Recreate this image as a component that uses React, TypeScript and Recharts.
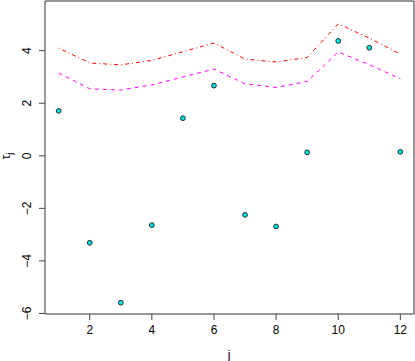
import React from 'react';
import { ComposedChart, Line, Scatter, XAxis, YAxis, ReferenceArea } from 'recharts';

const jValues = [1, 2, 3, 4, 5, 6, 7, 8, 9, 10, 11, 12];
const tauValues = [1.71, -3.31, -5.59, -2.64, 1.43, 2.67, -2.25, -2.69, 0.13, 4.37, 4.11, 0.15];
const upperValues = [4.1, 3.53, 3.46, 3.63, 3.96, 4.29, 3.68, 3.57, 3.74, 5.02, 4.48, 3.87];
const lowerValues = [3.15, 2.55, 2.5, 2.7, 3.0, 3.3, 2.74, 2.6, 2.83, 3.95, 3.47, 2.93];
const xTicks = [2, 4, 6, 8, 10, 12];
const yTicks = [-6, -4, -2, 0, 2, 4];

const data = jValues.map((j, i) => ({
    j,
    tau: tauValues[i],
    upper: upperValues[i],
    lower: lowerValues[i],
}));

const X_DOMAIN: [number, number] = [0.56, 12.44];
const Y_DOMAIN: [number, number] = [-6.02, 5.89];
const FONT = '"Liberation Sans", Arial, sans-serif';

const fmt = (v: number) => (v < 0 ? `\u2212${Math.abs(v)}` : `${v}`);

const YTick = ({ y, payload }: any) => (
    <text
        x={27}
        y={y}
        transform={`rotate(-90, 27, ${y})`}
        textAnchor="middle"
        dominantBaseline="central"
        fontSize={12}
        fontFamily={FONT}
        fill="#000"
    >
        {fmt(payload.value)}
    </text>
);

const XTick = ({ x, payload }: any) => (
    <text x={x} y={334} textAnchor="middle" fontSize={12} fontFamily={FONT} fill="#000">
        {payload.value}
    </text>
);

const Dot = ({ cx, cy }: any) => <circle cx={cx} cy={cy} r={2.4} fill="#00E2E2" stroke="#1a1a1a" strokeWidth={0.9} />;

export default function App() {
    return (
        <div style={{ position: 'absolute', left: 0, top: 0, background: '#fff' }}>
            <ComposedChart width={415} height={361} data={data} margin={{ top: 1, right: 1, left: 0, bottom: 0 }}>
                <XAxis
                    type="number"
                    dataKey="j"
                    domain={X_DOMAIN}
                    ticks={xTicks}
                    height={47}
                    axisLine={false}
                    tickSize={6}
                    tickLine={{ stroke: '#444' }}
                    tick={<XTick />}
                    allowDataOverflow
                />
                <YAxis
                    type="number"
                    domain={Y_DOMAIN}
                    ticks={yTicks}
                    width={45}
                    axisLine={false}
                    tickSize={6}
                    tickLine={{ stroke: '#444' }}
                    tick={<YTick />}
                    allowDataOverflow
                />
                <ReferenceArea
                    x1={X_DOMAIN[0]}
                    x2={X_DOMAIN[1]}
                    y1={Y_DOMAIN[0]}
                    y2={Y_DOMAIN[1]}
                    fill="none"
                    stroke="#333"
                    strokeWidth={1}
                />
                <Line
                    type="linear"
                    dataKey="upper"
                    stroke="#FF0000"
                    strokeWidth={1}
                    strokeDasharray="1 3 4 3"
                    dot={false}
                    isAnimationActive={false}
                />
                <Line
                    type="linear"
                    dataKey="lower"
                    stroke="#FF00FF"
                    strokeWidth={1}
                    strokeDasharray="4 4"
                    dot={false}
                    isAnimationActive={false}
                />
                <Scatter dataKey="tau" shape={<Dot />} isAnimationActive={false} />
            </ComposedChart>
            <svg width={415} height={361} style={{ position: 'absolute', left: 0, top: 0, pointerEvents: 'none' }}>
                <text x={229} y={359} textAnchor="middle" fontSize={12} fontFamily={FONT} fill="#000">
                    j
                </text>
                <text
                    x={10}
                    y={156}
                    transform="rotate(-90, 10, 156)"
                    textAnchor="middle"
                    fontSize={12}
                    fontFamily={FONT}
                    fill="#000"
                >
                    τ<tspan fontSize={9} dy={3}>j</tspan>
                </text>
            </svg>
        </div>
    );
}
